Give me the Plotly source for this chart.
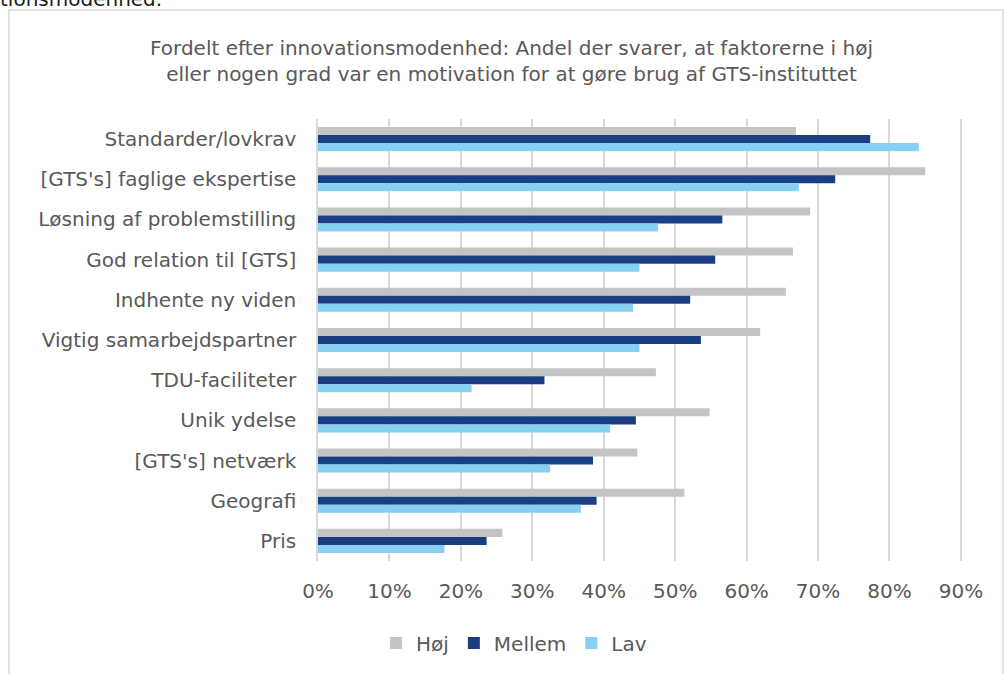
import plotly.graph_objects as go

categories = ["Standarder/lovkrav", "[GTS's] faglige ekspertise", "Løsning af problemstilling",
              "God relation til [GTS]", "Indhente ny viden", "Vigtig samarbejdspartner",
              "TDU-faciliteter", "Unik ydelse", "[GTS's] netværk", "Geografi", "Pris"]
hoj = [0.669, 0.850, 0.689, 0.665, 0.655, 0.619, 0.473, 0.548, 0.447, 0.513, 0.258]
mellem = [0.773, 0.724, 0.566, 0.556, 0.521, 0.536, 0.317, 0.445, 0.385, 0.390, 0.236]
lav = [0.841, 0.673, 0.476, 0.450, 0.441, 0.450, 0.215, 0.409, 0.325, 0.368, 0.177]
series_names = ["Høj", "Mellem", "Lav"]
colors = ["#C4C4C4", "#1A3E82", "#87D0F2"]
tick_vals = [0, 0.1, 0.2, 0.3, 0.4, 0.5, 0.6, 0.7, 0.8, 0.9]
tick_text = ["0%", "10%", "20%", "30%", "40%", "50%", "60%", "70%", "80%", "90%"]
title_text = ("Fordelt efter innovationsmodenhed: Andel der svarer, at faktorerne i høj<br>"
              "eller nogen grad var en motivation for at gøre brug af GTS-instituttet")

FONT = "DejaVu Sans"
W, H = 1004, 674
L, R, T, B = 318, 42, 119, 113
pw, ph = W - L - R, H - T - B

def px(x):
    return (x - L) / pw

def py(y):
    return (H - B - y) / ph

fig = go.Figure()
for name, vals, col in zip(series_names, [hoj, mellem, lav], colors):
    fig.add_trace(go.Bar(y=categories, x=vals, name=name, orientation="h",
                         marker=dict(color=col, line=dict(width=0))))

fig.update_layout(
    width=W, height=H,
    margin=dict(l=L, r=R, t=T, b=B),
    paper_bgcolor="white", plot_bgcolor="white",
    barmode="group", bargap=0.4, bargroupgap=0,
    font=dict(family=FONT, color="#595959", size=19),
    showlegend=True,
    legend=dict(orientation="h", x=px(514), xanchor="center", y=py(643), yanchor="middle",
                font=dict(size=20, color="#595959"), itemwidth=30, traceorder="normal"),
    xaxis=dict(range=[0, 0.9015], tickvals=tick_vals, ticktext=tick_text, showgrid=True,
               gridcolor="#D9D9D9", gridwidth=1.5, zeroline=False, showline=False,
               ticks="", tickfont=dict(size=20, color="#595959"), ticklabelstandoff=16),
    yaxis=dict(autorange="reversed", showgrid=False, showline=True, linecolor="#D9D9D9",
               linewidth=1.5, ticks="", tickfont=dict(size=20, color="#595959"),
               ticklabelstandoff=16),
    annotations=[
        dict(text=title_text, xref="paper", yref="paper", x=px(511), y=py(61),
             xanchor="center", yanchor="middle", showarrow=False,
             font=dict(size=20, color="#595959", family=FONT)),
        dict(text="tionsmodenhed.", xref="paper", yref="paper", x=px(-2), y=py(-1),
             xanchor="left", yanchor="middle", showarrow=False,
             font=dict(size=20, color="#1a1a1a", family=FONT)),
    ],
    shapes=[dict(type="rect", xref="paper", yref="paper", x0=px(9), x1=px(1003),
                 y0=py(690), y1=py(10), line=dict(color="#D9D9D9", width=1.5),
                 fillcolor="rgba(0,0,0,0)", layer="below")],
)

fig.write_html("out.html", config={"displayModeBar": False},
               post_script="document.body.style.margin='0';document.body.style.overflow='hidden';")
